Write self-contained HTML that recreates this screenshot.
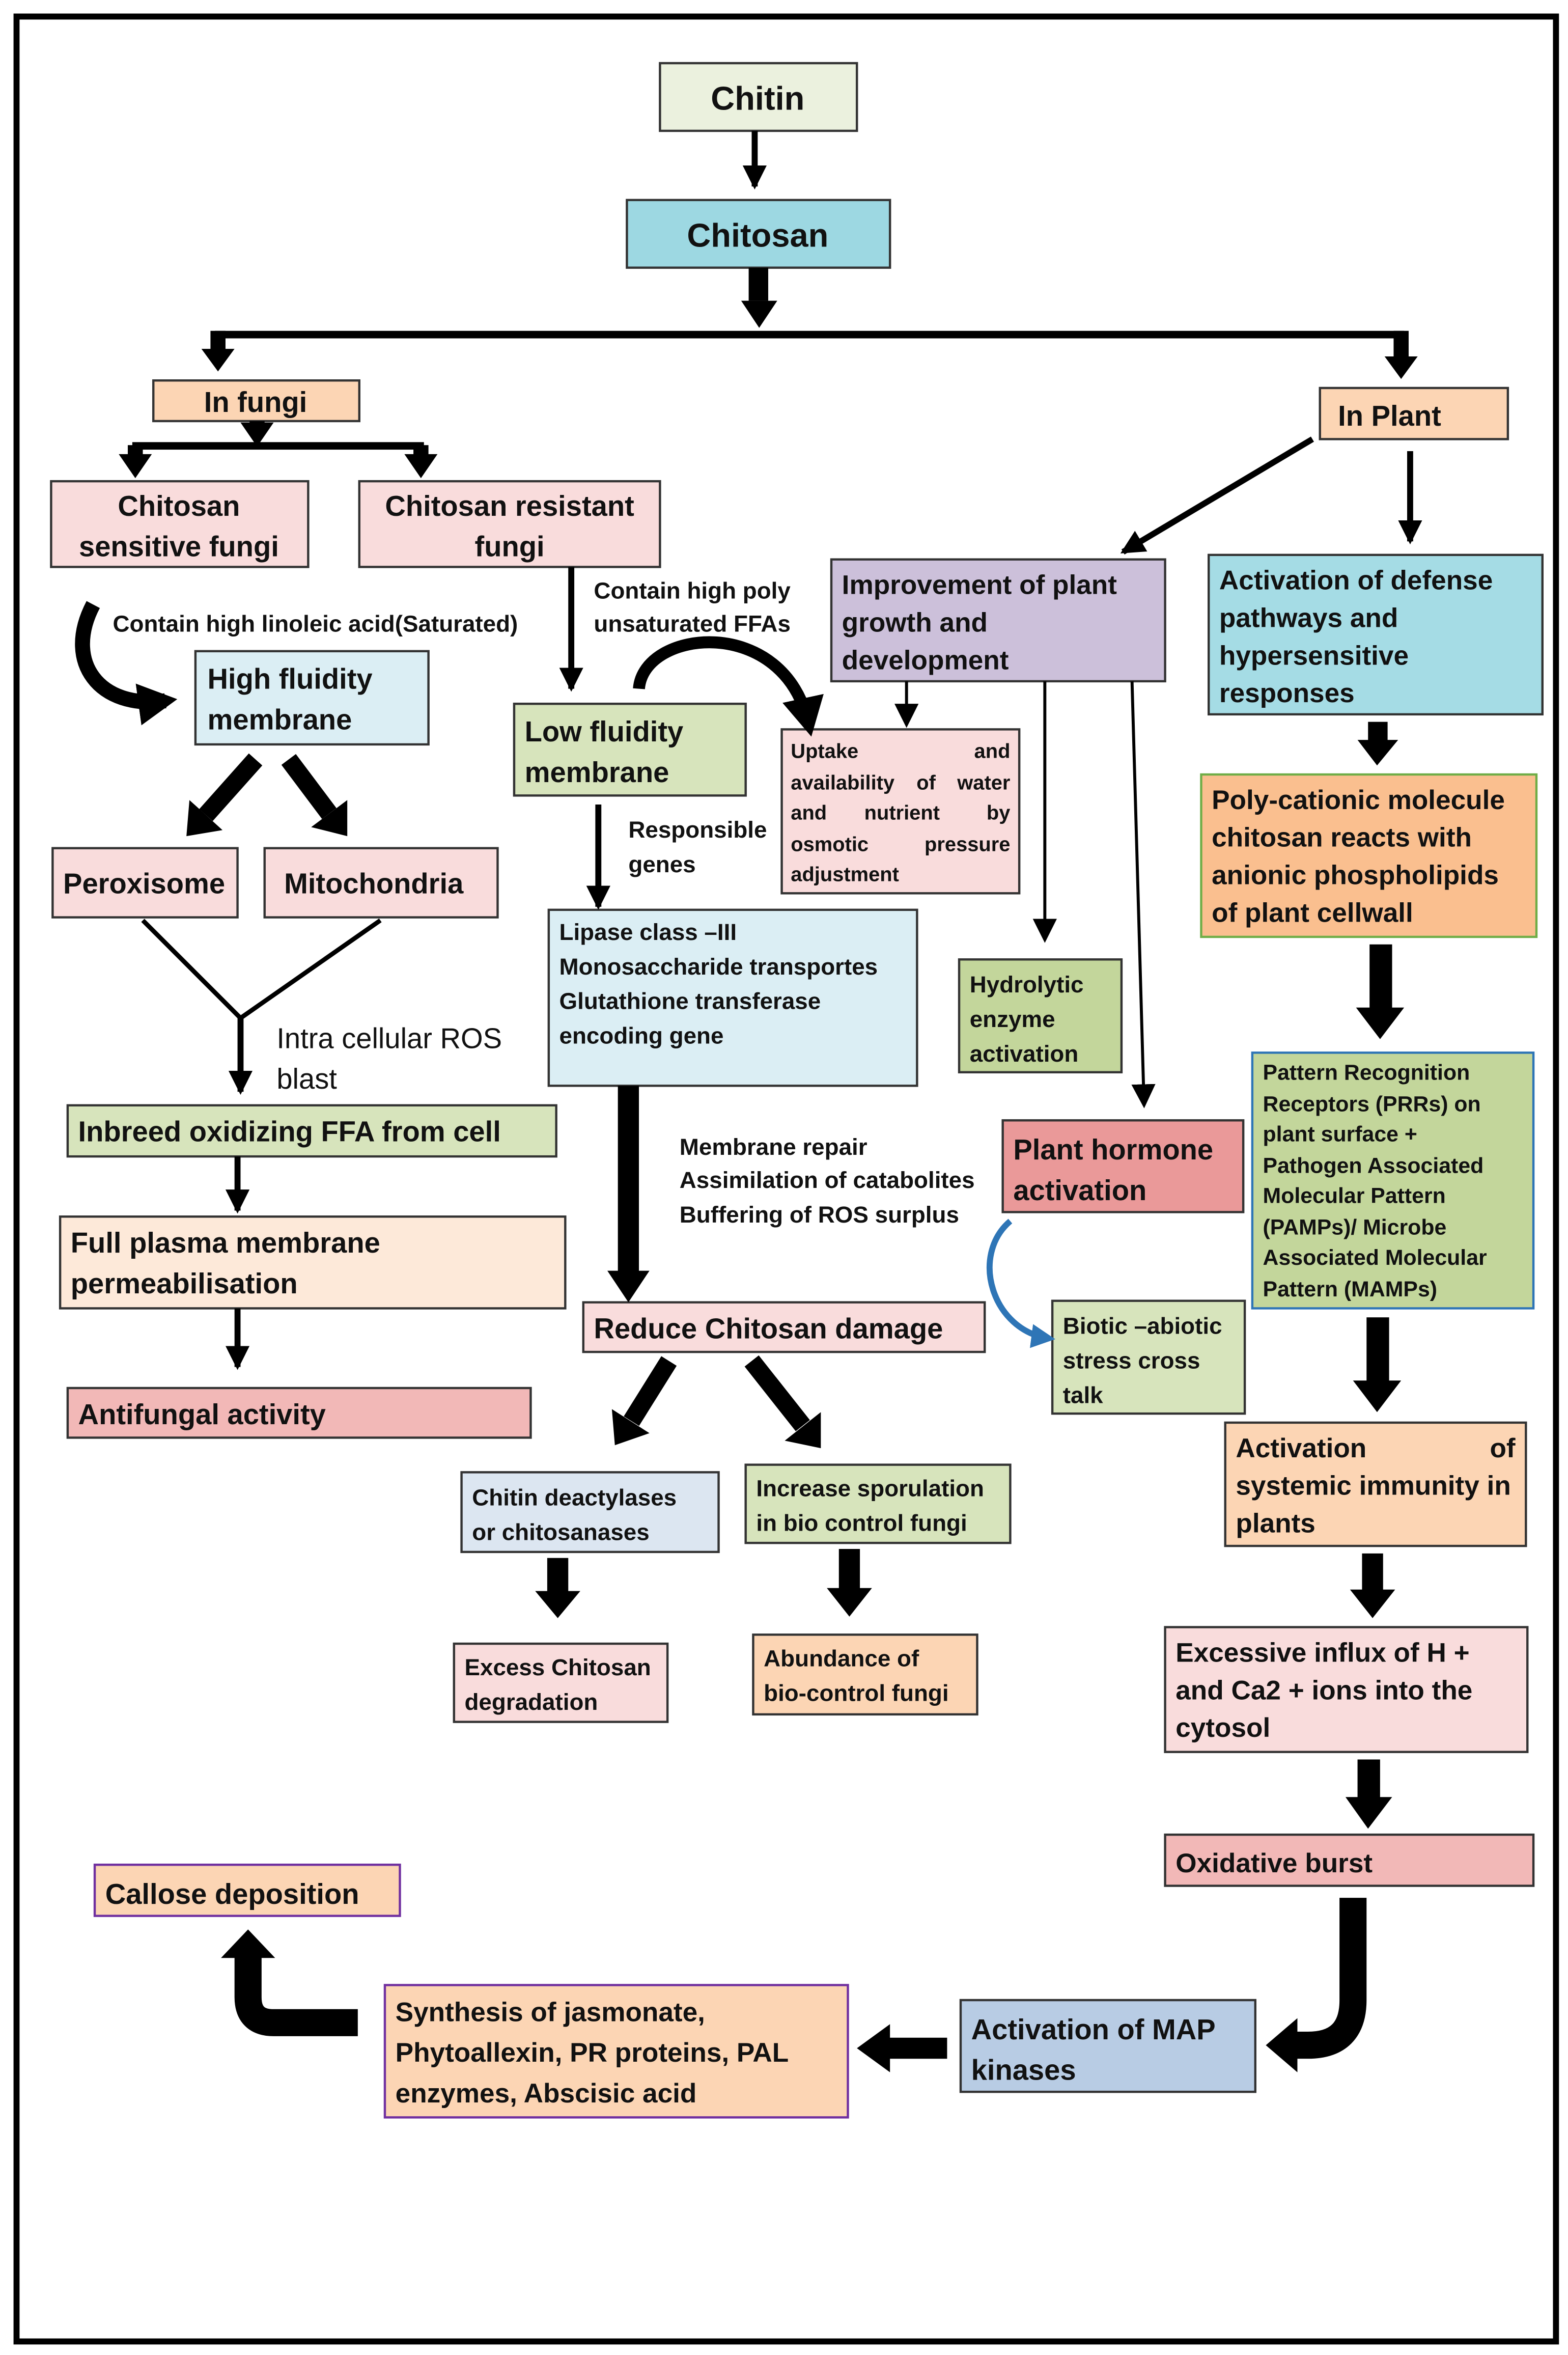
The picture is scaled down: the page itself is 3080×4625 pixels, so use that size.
<!DOCTYPE html>
<html><head><meta charset="utf-8"><style>
html,body{margin:0;padding:0;background:#fff}
svg{display:block}
text{font-family:"Liberation Sans",sans-serif;font-weight:bold;fill:#111}
</style></head><body>
<svg width="3080" height="4625" viewBox="0 0 1043 1566" preserveAspectRatio="none" xmlns="http://www.w3.org/2000/svg">
<defs>
<marker id="a" markerUnits="userSpaceOnUse" markerWidth="20" markerHeight="20" refX="14" refY="8" orient="auto"><path d="M0,0 L16,8 L0,16 z" fill="#000"/></marker>
<marker id="ab" markerUnits="userSpaceOnUse" markerWidth="30" markerHeight="30" refX="18" refY="14" orient="auto"><path d="M0,0 L26,14 L0,28 z" fill="#000"/></marker>
<marker id="bl" markerUnits="userSpaceOnUse" markerWidth="20" markerHeight="20" refX="12" refY="8" orient="auto"><path d="M0,0 L16,8 L0,16 z" fill="#2e75b6"/></marker>
</defs>
<rect x="0" y="0" width="1043" height="1566" fill="#fff"/>
<rect x="11" y="11" width="1024" height="1546" fill="none" stroke="#000" stroke-width="4"/>

<g stroke="#333" stroke-width="1.5">
<rect x="439" y="42" width="131" height="45" fill="#ebf1de"/>
<rect x="417" y="133" width="175" height="45" fill="#9dd8e2"/>
<rect x="102" y="253" width="137" height="27" fill="#fcd5b4"/>
<rect x="878" y="258" width="125" height="34" fill="#fcd5b4"/>
<rect x="34" y="320" width="171" height="57" fill="#f9dcdc"/>
<rect x="239" y="320" width="200" height="57" fill="#f9dcdc"/>
<rect x="130" y="433" width="155" height="62" fill="#dbeef4"/>
<rect x="342" y="468" width="154" height="61" fill="#d7e4bc"/>
<rect x="35" y="564" width="123" height="46" fill="#f9dcdc"/>
<rect x="176" y="564" width="155" height="46" fill="#f9dcdc"/>
<rect x="45" y="735" width="325" height="34" fill="#d7e4bc"/>
<rect x="40" y="809" width="336" height="61" fill="#fde9d9"/>
<rect x="45" y="923" width="308" height="33" fill="#f2b8b7"/>
<rect x="365" y="605" width="245" height="117" fill="#dbeef4"/>
<rect x="388" y="866" width="267" height="33" fill="#f9dcdc"/>
<rect x="307" y="979" width="171" height="53" fill="#dce6f1"/>
<rect x="496" y="974" width="176" height="52" fill="#d7e4bc"/>
<rect x="302" y="1093" width="142" height="52" fill="#f9dcdc"/>
<rect x="501" y="1087" width="149" height="53" fill="#fcd5b4"/>
<rect x="553" y="372" width="222" height="81" fill="#ccc0da"/>
<rect x="520" y="485" width="158" height="109" fill="#f9dcdc"/>
<rect x="638" y="638" width="108" height="75" fill="#c3d69b"/>
<rect x="667" y="745" width="160" height="61" fill="#ea9999"/>
<rect x="700" y="865" width="128" height="75" fill="#d7e4bc"/>
<rect x="804" y="369" width="222" height="106" fill="#a5dce5"/>
<rect x="799" y="515" width="223" height="108" fill="#fabf8f" stroke="#70ad47"/>
<rect x="833" y="700" width="187" height="170" fill="#c3d69b" stroke="#2e75b6"/>
<rect x="815" y="946" width="200" height="82" fill="#fcd5b4"/>
<rect x="775" y="1082" width="241" height="83" fill="#f9dcdc"/>
<rect x="775" y="1220" width="245" height="34" fill="#f2b8b7"/>
<rect x="639" y="1330" width="196" height="61" fill="#b8cce4"/>
<rect x="256" y="1320" width="308" height="88" fill="#fcd5b4" stroke="#7030a0"/>
<rect x="63" y="1240" width="203" height="34" fill="#fcd5b4" stroke="#7030a0"/>
</g>

<g stroke="#000" stroke-width="4" fill="none">
<line x1="502" y1="87" x2="502" y2="124" marker-end="url(#a)"/>
<line x1="380" y1="377" x2="380" y2="458" marker-end="url(#a)"/>
<line x1="160" y1="677" x2="160" y2="726" marker-end="url(#a)"/>
<line x1="158" y1="769" x2="158" y2="805" marker-end="url(#a)"/>
<line x1="158" y1="870" x2="158" y2="909" marker-end="url(#a)"/>
<line x1="398" y1="535" x2="398" y2="603" marker-end="url(#a)"/>
<line x1="873" y1="292" x2="747" y2="367" marker-end="url(#a)"/>
<line x1="938" y1="300" x2="938" y2="360" marker-end="url(#a)"/>
<polyline points="95,612 160,677 253,612" stroke-width="3"/>
</g>
<g stroke="#000" stroke-width="2" fill="none">
<line x1="603" y1="453" x2="603" y2="482" marker-end="url(#a)"/>
<line x1="695" y1="453" x2="695" y2="625" marker-end="url(#a)"/>
<line x1="753" y1="453" x2="761" y2="735" marker-end="url(#a)"/>
</g>
<g fill="#000">
<rect x="498" y="178" width="13" height="22"/><polygon points="493,200 517,200 505,218"/>
<rect x="143" y="220" width="791" height="5"/>
<rect x="140" y="220" width="10" height="14"/><polygon points="134,232 156,232 145,247"/>
<rect x="927" y="220" width="10" height="18"/><polygon points="921,237 943,237 932,252"/>
<rect x="166" y="280" width="10" height="5"/><polygon points="160,281 182,281 171,297"/>
<rect x="88" y="294" width="194" height="5"/>
<rect x="85" y="296" width="10" height="8"/><polygon points="79,302 101,302 90,318"/>
<rect x="275" y="296" width="10" height="8"/><polygon points="269,302 291,302 280,318"/>
<rect x="411" y="722" width="14" height="125"/><polygon points="404,845 432,845 418,866"/>
<rect x="364" y="1036" width="14" height="24"/><polygon points="356,1058 386,1058 371,1076"/>
<rect x="558" y="1030" width="14" height="28"/><polygon points="550,1056 580,1056 565,1075"/>
<rect x="910" y="480" width="13" height="14"/><polygon points="903,492 930,492 916,509"/>
<rect x="911" y="628" width="15" height="44"/><polygon points="902,670 934,670 918,691"/>
<rect x="909" y="876" width="15" height="44"/><polygon points="900,918 932,918 916,939"/>
<rect x="906" y="1033" width="14" height="26"/><polygon points="898,1057 928,1057 913,1076"/>
<rect x="903" y="1170" width="15" height="27"/><polygon points="895,1195 926,1195 910,1216"/>
<line x1="170" y1="505" x2="137" y2="542" stroke="#000" stroke-width="12"/><polygon points="148,552 126,532 124,556"/>
<line x1="192" y1="505" x2="219" y2="541" stroke="#000" stroke-width="12"/><polygon points="231,532 207,550 231,556"/>
<line x1="445" y1="905" x2="420" y2="945" stroke="#000" stroke-width="12"/><polygon points="432,953 407,937 409,961"/>
<line x1="500" y1="905" x2="534" y2="948" stroke="#000" stroke-width="12"/><polygon points="546,939 522,958 546,963"/>
<rect x="590" y="1355" width="40" height="14"/><polygon points="592,1346 592,1378 570,1362"/>
<polygon points="863,1342 863,1378 842,1360"/>
<polygon points="147,1302 183,1302 165,1283"/>
</g>
<g fill="none" stroke="#000">
<path d="M62 402 C42 440 66 472 110 466" stroke-width="10" marker-end="url(#ab)"/>
<path d="M425 458 C428 418 522 408 538 482" stroke-width="8" marker-end="url(#ab)"/>
<path d="M900 1262 L900 1330 Q900 1360 870 1360 L862 1360" stroke-width="18"/>
<path d="M238 1345 L182 1345 Q165 1345 165 1328 L165 1300" stroke-width="18"/>
</g>
<path d="M672 812 C645 835 660 885 698 890" fill="none" stroke="#2e75b6" stroke-width="4" marker-end="url(#bl)"/>

<g font-size="22">
<text x="504" y="73" text-anchor="middle">Chitin</text>
<text x="504" y="164" text-anchor="middle">Chitosan</text>
</g>
<g font-size="19">
<text x="170" y="274" text-anchor="middle">In fungi</text>
<text x="890" y="283">In Plant</text>
<text x="119" y="343" text-anchor="middle">Chitosan</text>
<text x="119" y="370" text-anchor="middle">sensitive fungi</text>
<text x="339" y="343" text-anchor="middle">Chitosan resistant</text>
<text x="339" y="370" text-anchor="middle">fungi</text>
<text x="138" y="458">High fluidity</text>
<text x="138" y="485">membrane</text>
<text x="349" y="493">Low fluidity</text>
<text x="349" y="520">membrane</text>
<text x="42" y="594">Peroxisome</text>
<text x="189" y="594">Mitochondria</text>
<text x="52" y="759">Inbreed oxidizing FFA from cell</text>
<text x="47" y="833">Full plasma membrane</text>
<text x="47" y="860">permeabilisation</text>
<text x="52" y="947">Antifungal activity</text>
<text x="395" y="890">Reduce Chitosan damage</text>
<text x="674" y="771">Plant hormone</text>
<text x="674" y="798">activation</text>
<text x="646" y="1356">Activation of MAP</text>
<text x="646" y="1383">kinases</text>
<text x="70" y="1266">Callose deposition</text>
</g>
<g font-size="18">
<text x="560" y="395">Improvement of plant</text>
<text x="560" y="420">growth and</text>
<text x="560" y="445">development</text>
<text x="811" y="392">Activation of defense</text>
<text x="811" y="417">pathways and</text>
<text x="811" y="442">hypersensitive</text>
<text x="811" y="467">responses</text>
<text x="806" y="538">Poly-cationic molecule</text>
<text x="806" y="563">chitosan reacts with</text>
<text x="806" y="588">anionic phospholipids</text>
<text x="806" y="613">of plant cellwall</text>
<text x="822" y="969">Activation</text><text x="1008" y="969" text-anchor="end">of</text>
<text x="822" y="994">systemic immunity in</text>
<text x="822" y="1019">plants</text>
<text x="782" y="1105">Excessive influx of H +</text>
<text x="782" y="1130">and Ca2 + ions into the</text>
<text x="782" y="1155">cytosol</text>
<text x="782" y="1245">Oxidative burst</text>
<text x="263" y="1344">Synthesis of jasmonate,</text>
<text x="263" y="1371">Phytoallexin, PR proteins, PAL</text>
<text x="263" y="1398">enzymes, Abscisic acid</text>
</g>
<g font-size="15.5">
<text x="75" y="420">Contain high linoleic acid(Saturated)</text>
<text x="395" y="398">Contain high poly</text>
<text x="395" y="420">unsaturated FFAs</text>
<text x="418" y="557">Responsible</text>
<text x="418" y="580">genes</text>
<text x="372" y="625">Lipase class –III</text>
<text x="372" y="648">Monosaccharide transportes</text>
<text x="372" y="671">Glutathione transferase</text>
<text x="372" y="694">encoding gene</text>
<text x="452" y="768">Membrane repair</text>
<text x="452" y="790">Assimilation of catabolites</text>
<text x="452" y="813">Buffering of ROS surplus</text>
<text x="314" y="1001">Chitin deactylases</text>
<text x="314" y="1024">or chitosanases</text>
<text x="503" y="995">Increase sporulation</text>
<text x="503" y="1018">in bio control fungi</text>
<text x="309" y="1114">Excess Chitosan</text>
<text x="309" y="1137">degradation</text>
<text x="508" y="1108">Abundance of</text>
<text x="508" y="1131">bio-control fungi</text>
<text x="645" y="660">Hydrolytic</text>
<text x="645" y="683">enzyme</text>
<text x="645" y="706">activation</text>
<text x="707" y="887">Biotic –abiotic</text>
<text x="707" y="910">stress cross</text>
<text x="707" y="933">talk</text>
</g>
<g font-size="13.5">
<text x="526" y="504">Uptake</text><text x="672" y="504" text-anchor="end">and</text>
<text x="526" y="525">availability</text><text x="616" y="525" text-anchor="middle">of</text><text x="672" y="525" text-anchor="end">water</text>
<text x="526" y="545">and</text><text x="600" y="545" text-anchor="middle">nutrient</text><text x="672" y="545" text-anchor="end">by</text>
<text x="526" y="566">osmotic</text><text x="672" y="566" text-anchor="end">pressure</text>
<text x="526" y="586">adjustment</text>
</g>
<g font-size="14.5">
<text x="840" y="718">Pattern Recognition</text>
<text x="840" y="739">Receptors (PRRs) on</text>
<text x="840" y="759">plant surface +</text>
<text x="840" y="780">Pathogen Associated</text>
<text x="840" y="800">Molecular Pattern</text>
<text x="840" y="821">(PAMPs)/ Microbe</text>
<text x="840" y="841">Associated Molecular</text>
<text x="840" y="862">Pattern (MAMPs)</text>
</g>
<g font-size="19">
<text x="184" y="697" style="font-weight:normal">Intra cellular ROS</text>
<text x="184" y="724" style="font-weight:normal">blast</text>
</g>
</svg>
</body></html>
